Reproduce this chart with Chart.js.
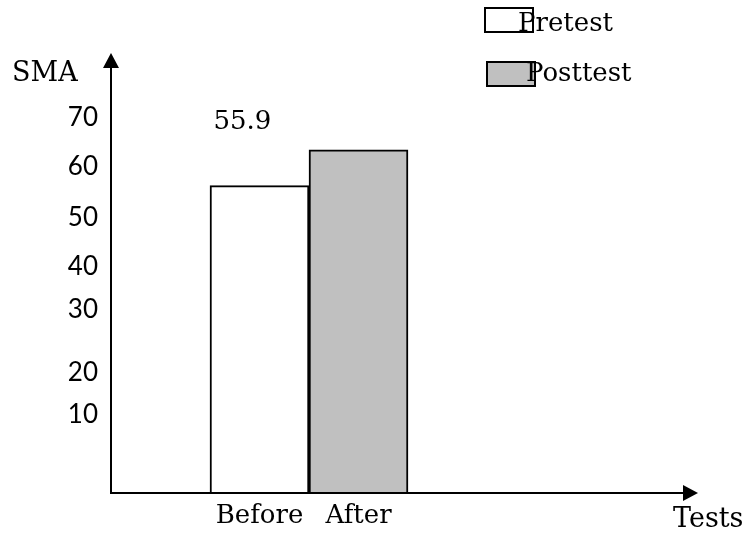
<!DOCTYPE html>
<html>
<head>
<meta charset="utf-8">
<script src="https://cdn.jsdelivr.net/npm/chart.js@4/dist/chart.umd.min.js"></script>
<style>
  html, body { margin: 0; padding: 0; background: #fff; }
  canvas { display: block; }
</style>
</head>
<body>
<canvas id="chart" width="747" height="533"></canvas>
<script>
// SMA scores before and after the intervention
const categories = ['Before', 'After'];
const pretestValues = [55.9, null];
const posttestValues = [null, 62.4];
const seriesNames = ['Pretest', 'Posttest'];
// y-axis tick marks as printed (uneven spacing)
const yTickValues = [14.2, 21.8, 33.3, 41.1, 50, 59.3, 68.2];
const yTickLabels = ['10', '20', '30', '40', '50', '60', '70'];
const yAxisTitle = 'SMA';
const xAxisTitle = 'Tests';

const SERIF = '"DejaVu Serif", "Liberation Serif", serif';
const SANS = 'Lato, "Open Sans", sans-serif';

// one empty slot on the left, three on the right of the two bars
const labels = ['', ...categories, '', '', ''];
const pad = (arr) => [null, ...arr, null, null, null];

// axes with arrowheads, axis titles, value label and legend
const decorations = {
  id: 'decorations',
  afterDraw(chart) {
    const ctx = chart.ctx;
    const a = chart.chartArea;
    const x0 = a.left, y0 = a.bottom;
    const xEnd = 698, yEnd = 53;
    ctx.save();
    ctx.strokeStyle = '#000';
    ctx.fillStyle = '#000';
    ctx.lineWidth = 2;
    // y axis
    ctx.beginPath();
    ctx.moveTo(x0, y0 + 1);
    ctx.lineTo(x0, yEnd + 10);
    ctx.stroke();
    ctx.beginPath();
    ctx.moveTo(x0, yEnd);
    ctx.lineTo(x0 - 8, yEnd + 15);
    ctx.lineTo(x0 + 8, yEnd + 15);
    ctx.closePath();
    ctx.fill();
    // x axis
    ctx.beginPath();
    ctx.moveTo(x0 - 1, y0);
    ctx.lineTo(xEnd - 10, y0);
    ctx.stroke();
    ctx.beginPath();
    ctx.moveTo(xEnd, y0);
    ctx.lineTo(xEnd - 15, y0 - 8);
    ctx.lineTo(xEnd - 15, y0 + 8);
    ctx.closePath();
    ctx.fill();

    // axis titles
    ctx.font = '27px ' + SERIF;
    ctx.textBaseline = 'alphabetic';
    ctx.textAlign = 'left';
    ctx.fillText(yAxisTitle, 12, 81);
    ctx.fillText(xAxisTitle, 673, 527);

    // value label of the pretest bar
    ctx.font = '26px ' + SERIF;
    const meta = chart.getDatasetMeta(0);
    meta.data.forEach((bar, i) => {
      const v = chart.data.datasets[0].data[i];
      if (v == null) return;
      ctx.textAlign = 'left';
      ctx.fillText(String(v), bar.x - 46, bar.y - 57);
    });

    // legend
    const rows = [
      { box: [485, 8], text: [518, 31] },
      { box: [487, 62], text: [526, 81] }
    ];
    chart.data.datasets.forEach((ds, i) => {
      const r = rows[i];
      ctx.fillStyle = ds.backgroundColor;
      ctx.fillRect(r.box[0], r.box[1], 48, 24);
      ctx.lineWidth = 2;
      ctx.strokeStyle = '#000';
      ctx.strokeRect(r.box[0], r.box[1], 48, 24);
      ctx.fillStyle = '#000';
      ctx.textAlign = 'left';
      ctx.fillText(ds.label, r.text[0], r.text[1]);
    });
    ctx.restore();
  }
};

new Chart(document.getElementById('chart'), {
  type: 'bar',
  data: {
    labels: labels,
    datasets: [
      {
        label: seriesNames[0],
        data: pad(pretestValues),
        backgroundColor: '#ffffff',
        borderColor: '#000000',
        borderWidth: 2
      },
      {
        label: seriesNames[1],
        data: pad(posttestValues),
        backgroundColor: '#c0c0c0',
        borderColor: '#000000',
        borderWidth: 2
      }
    ]
  },
  options: {
    responsive: false,
    animation: false,
    events: [],
    layout: { padding: { top: 53, right: 42, left: 0, bottom: 0 } },
    datasets: {
      bar: { grouped: false, barPercentage: 1, categoryPercentage: 1 }
    },
    plugins: {
      legend: { display: false },
      tooltip: { enabled: false }
    },
    scales: {
      x: {
        type: 'category',
        offset: true,
        border: { display: false },
        grid: { display: false, drawTicks: false },
        ticks: {
          autoSkip: false,
          maxRotation: 0,
          padding: 8,
          color: '#000',
          font: { family: SERIF, size: 26 }
        },
        afterFit(scale) { scale.height = 40; }
      },
      y: {
        type: 'linear',
        min: 0,
        max: 80,
        border: { display: false },
        grid: { display: false, drawTicks: false },
        afterBuildTicks(scale) {
          scale.ticks = yTickValues.map(v => ({ value: v }));
        },
        ticks: {
          padding: 13,
          color: '#000',
          font: { family: SANS, size: 26 },
          callback: (v, i) => yTickLabels[i]
        },
        afterFit(scale) { scale.width = 111; }
      }
    }
  },
  plugins: [decorations]
});
</script>
</body>
</html>
